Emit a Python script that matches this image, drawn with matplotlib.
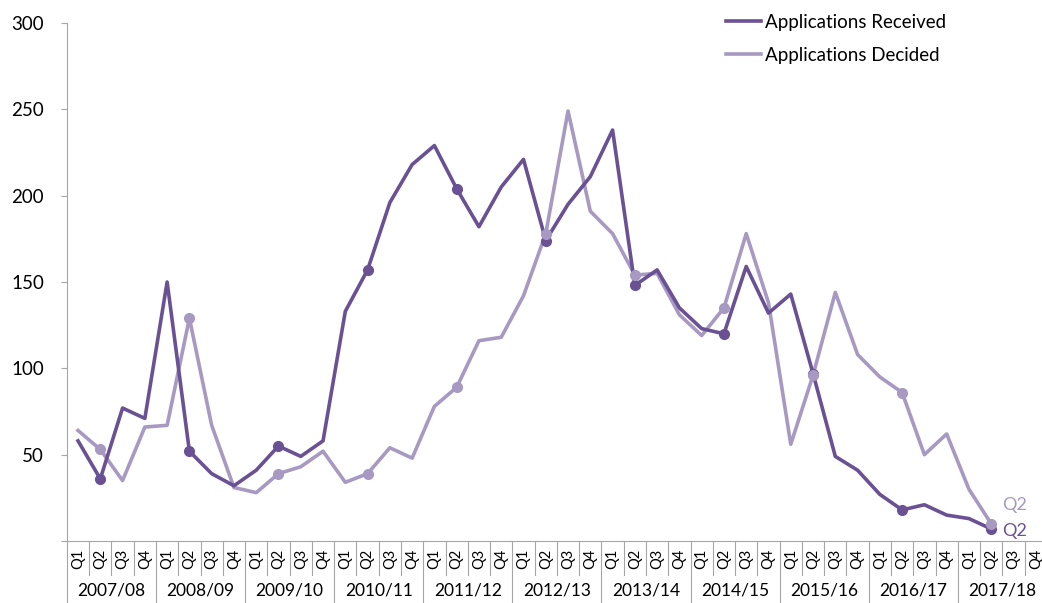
import matplotlib
matplotlib.use("Agg")
import matplotlib.pyplot as plt
import matplotlib.transforms as mtransforms

plt.rcParams['font.family'] = ['Lato', 'DejaVu Sans']

years = ["2007/08", "2008/09", "2009/10", "2010/11", "2011/12", "2012/13",
         "2013/14", "2014/15", "2015/16", "2016/17", "2017/18"]
quarters = ["Q1", "Q2", "Q3", "Q4"]

received = [58, 36, 77, 71, 150, 52, 39, 32, 41, 55, 49, 58,
            133, 157, 196, 218, 229, 204, 182, 205, 221, 174, 195, 211,
            238, 148, 157, 135, 123, 120, 159, 132, 143, 97, 49, 41,
            27, 18, 21, 15, 13, 7]
decided = [64, 53, 35, 66, 67, 129, 67, 31, 28, 39, 43, 52,
           34, 39, 54, 48, 78, 89, 116, 118, 142, 178, 249, 191,
           178, 154, 155, 131, 119, 135, 178, 138, 56, 96, 144, 108,
           95, 86, 50, 62, 30, 10]

dark = "#6a5193"
light = "#a799c2"
grey = "#a6a6a6"

fig = plt.figure(figsize=(10.42, 6.03), dpi=100)
ax = fig.add_axes([0.0642, 0.1028, 0.9405, 0.8591])

x = list(range(len(received)))
q2 = [i for i in x if i % 4 == 1]
ax.plot(x, decided, color=light, lw=2.6, label="Applications Decided", zorder=2)
ax.plot(x, received, color=dark, lw=2.6, label="Applications Received", zorder=3)
ax.plot(q2, [received[i] for i in q2], 'o', color=dark, ms=7, zorder=4)
ax.plot(q2, [decided[i] for i in q2], 'o', color=light, ms=7, zorder=5)

ax.text(x[-1] + 0.5, decided[-1] + 11, "Q2", color=light, fontsize=13, va='center')
ax.text(x[-1] + 0.5, received[-1] - 1, "Q2", color=dark, fontsize=13, va='center')

n = len(years) * 4
ax.set_xlim(-0.5, n - 0.5)
ax.set_ylim(0, 300)
ax.set_yticks([0, 50, 100, 150, 200, 250, 300])
ax.set_yticklabels(["", "50", "100", "150", "200", "250", "300"])
ax.tick_params(axis='y', labelsize=13.5, length=4.5, color=grey, direction='out', pad=12)
ax.set_xticks([])

for s in ["top", "right"]:
    ax.spines[s].set_visible(False)
ax.spines["left"].set_color(grey)
ax.spines["bottom"].set_color(grey)

trans = mtransforms.blended_transform_factory(ax.transData, ax.transAxes)
px = 1.0 / (0.8591 * 603)
for i in range(n):
    ax.text(i, -18 * px, quarters[i % 4], rotation=90, ha='center', va='center',
            fontsize=10.5, transform=trans, clip_on=False)
    if i % 4 != 0:
        ax.plot([i - 0.5, i - 0.5], [0, -34 * px], color=grey, lw=0.8,
                transform=trans, clip_on=False)
for k, yr in enumerate(years):
    ax.text(4 * k + 1.5, -49 * px, yr, ha='center', va='center', fontsize=12.5,
            transform=trans, clip_on=False)
    ax.plot([4 * k - 0.5, 4 * k - 0.5], [0, -64 * px], color=grey, lw=0.8,
            transform=trans, clip_on=False)

handles, labels = ax.get_legend_handles_labels()
ax.legend(handles[::-1], labels[::-1], loc='upper left', bbox_to_anchor=(0.655, 1.05),
          frameon=False, fontsize=13.5, handlelength=1.9, labelspacing=0.85,
          handletextpad=0.2)

fig.savefig("out.png", dpi=100)
